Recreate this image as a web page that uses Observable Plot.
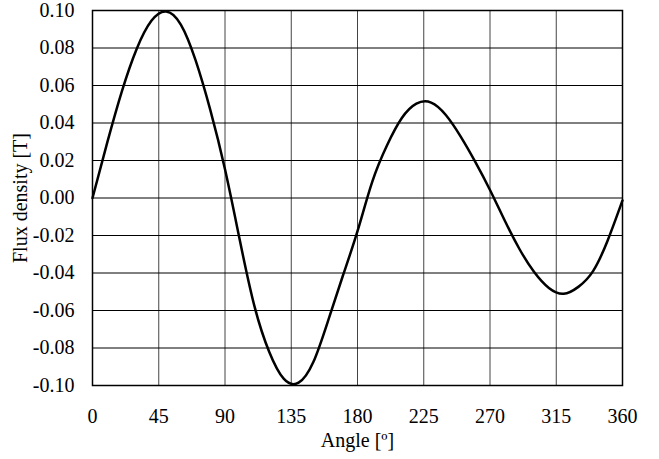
<!DOCTYPE html>
<html>
<head>
<meta charset="utf-8">
<script src="https://cdn.jsdelivr.net/npm/d3@7"></script>
<script src="https://cdn.jsdelivr.net/npm/@observablehq/plot@0.6"></script>
<style>
  html, body { margin: 0; padding: 0; background: #fff; }
  #chart svg { display: block; }
  #chart svg text { font-family: "Times New Roman", "Liberation Serif", serif !important; font-size: 20px !important; fill: #000; }
</style>
</head>
<body>
<div id="chart"></div>
<script>
const angles = [0, 10, 20, 30, 40, 50, 60, 70, 80, 90, 100, 110, 120, 130, 140, 150, 160, 170, 180, 190, 200, 210, 220, 230, 240, 250, 260, 270, 280, 290, 300, 310, 320, 330, 340, 350, 360];
const flux = [0, 0.0295, 0.057, 0.0795, 0.0945, 0.0995, 0.0925, 0.0735, 0.047, 0.0153, -0.0223, -0.0577, -0.082, -0.0965, -0.0985, -0.0875, -0.0655, -0.0416, -0.0177, 0.0086, 0.028, 0.0425, 0.0503, 0.0509, 0.0443, 0.0329, 0.0193, 0.0043, -0.012, -0.0272, -0.0395, -0.048, -0.0511, -0.0474, -0.039, -0.0225, -0.0013];
const xTicks = [0, 45, 90, 135, 180, 225, 270, 315, 360];
const yTicks = [-0.10, -0.08, -0.06, -0.04, -0.02, 0.00, 0.02, 0.04, 0.06, 0.08, 0.10];

const data = angles.map((a, i) => ({angle: a, flux: flux[i]}));
const serif = "'Times New Roman', 'Liberation Serif', serif";

const chart = Plot.plot({
  width: 659,
  height: 459,
  marginLeft: 92,
  marginRight: 37,
  marginTop: 10,
  marginBottom: 74,
  style: "font-family: 'Times New Roman', 'Liberation Serif', serif; font-size: 20px; background: #fff;",
  x: {domain: [0, 360], ticks: xTicks, label: "Angle [º]"},
  y: {domain: [-0.1, 0.1], ticks: yTicks, label: "Flux density [T]"},
  marks: [
    Plot.ruleX(xTicks, {stroke: "#444", strokeWidth: 1, strokeOpacity: 1}),
    Plot.ruleY(yTicks, {stroke: "#000", strokeWidth: 1, strokeOpacity: 1}),
    Plot.frame({stroke: "#000", strokeWidth: 1.5}),
    Plot.axisX({ticks: xTicks, tickSize: 0, tickPadding: 23, tickFormat: d => String(d), label: "Angle [º]", labelAnchor: "center", labelArrow: "none", labelOffset: 61, fontSize: 20, fontFamily: serif}),
    Plot.axisY({ticks: yTicks, tickSize: 0, tickPadding: 18, tickFormat: d => d.toFixed(2), label: "Flux density [T]", labelAnchor: "center", labelArrow: "none", labelOffset: 80, fontSize: 20, fontFamily: serif}),
    Plot.line(data, {x: "angle", y: "flux", stroke: "#000", strokeWidth: 2.5, curve: "natural"})
  ]
});
document.getElementById("chart").appendChild(chart);
</script>
</body>
</html>
